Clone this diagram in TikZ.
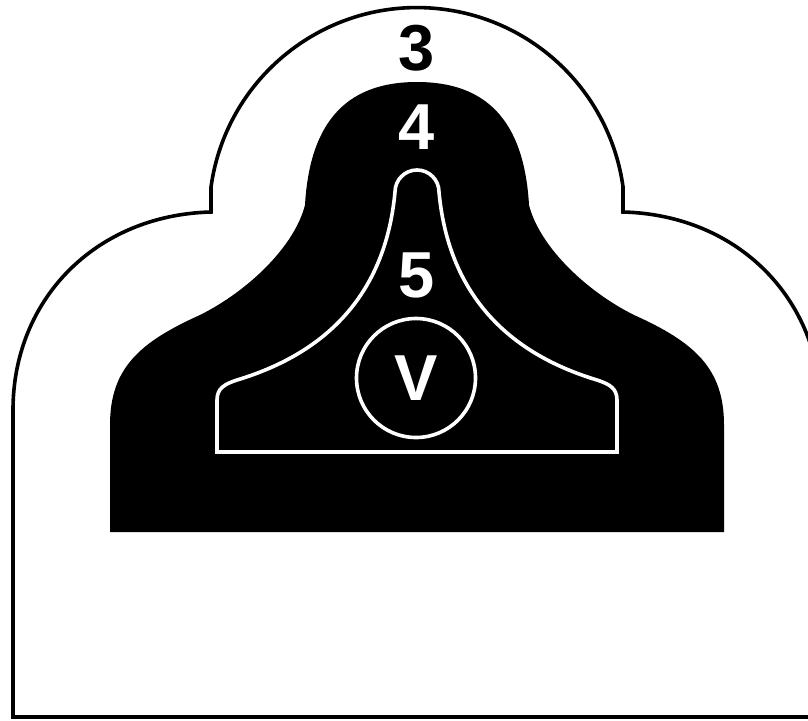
\documentclass[tikz,border=0pt]{standalone}
\usepackage{fontspec}
\setsansfont{Liberation Sans}
\usetikzlibrary{shapes}
\tikzset{
  score/.style={font=\sffamily\bfseries\fontsize{65}{65}\selectfont, inner sep=0pt},
  ring/.style={line width=3.6pt},
}
\begin{document}
\begin{tikzpicture}[x=1pt,y=-1pt]
\useasboundingbox (0,0) rectangle (808,720);
\clip (0,0) rectangle (808,720);
\fill[white] (0,0) rectangle (808,720);
% zone 3
\draw[ring] (13,717) -- (13,410) .. controls (13,300) and (95,215) .. (211,212) -- (211,187)
  arc[start angle=187.9, end angle=352.1, radius=208] -- (623,212)
  .. controls (739,215) and (821,300) .. (821,410) -- (821,717) -- cycle;
% zone 4
\fill[black] (110,532) -- (110,425) .. controls (110,368) and (140,342) .. (200,315)
  .. controls (250,290) and (295,245) .. (305,205) .. controls (310,118) and (350,82) .. (417,82)
  .. controls (484,82) and (524,118) .. (529,205) .. controls (539,245) and (584,290) .. (634,315)
  .. controls (694,342) and (724,368) .. (724,425) -- (724,532) -- cycle;
% zone 5
\draw[ring, white] (217,452) -- (217,400) .. controls (217,388) and (225,384) .. (237,380)
  .. controls (320,355) and (385,300) .. (395,192) arc[start angle=180, end angle=360, radius=22]
  .. controls (449,300) and (514,355) .. (597,380) .. controls (609,384) and (617,388) .. (617,400)
  -- (617,452) -- cycle;
\node[score, ring, circle, draw=white, text=white, minimum size=119pt] (bull) at (416,378) {V};
\node[score] (three) at (417,48) {3};
\node[score, text=white] (four) at (417,127) {4};
\node[score, text=white] (five) at (417,275) {5};
\end{tikzpicture}
\end{document}
